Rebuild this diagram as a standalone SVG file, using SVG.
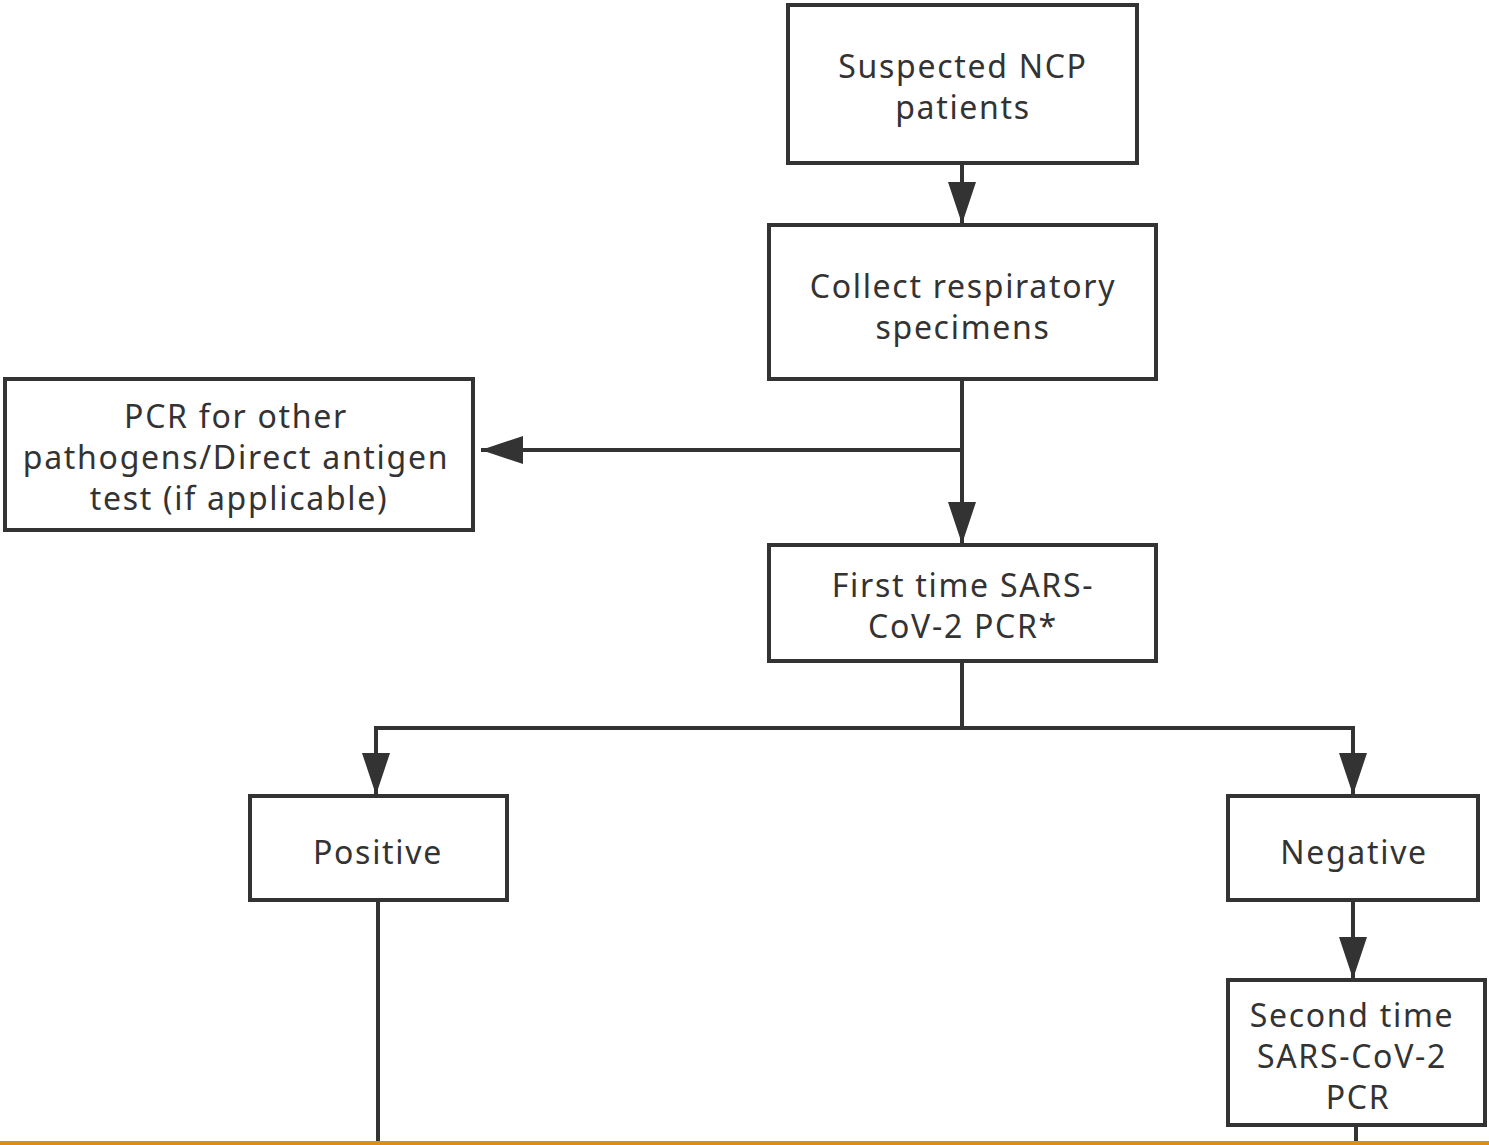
<svg xmlns="http://www.w3.org/2000/svg" width="1489" height="1145" viewBox="0 0 1489 1145">
<defs>
<marker id="ah" markerUnits="userSpaceOnUse" markerWidth="44" markerHeight="30" refX="42" refY="14" orient="auto">
<path d="M0,0 L42,14 L0,28 z" fill="#333"/>
</marker>
<style>
.box{fill:#fff;stroke:#333;stroke-width:4}
.t{font-family:"Noto Sans","Open Sans",sans-serif;font-size:32px;letter-spacing:1.7px;fill:#333;text-anchor:middle}
.c{fill:none;stroke:#333;stroke-width:4}
</style>
</defs>
<rect width="1489" height="1145" fill="#fff"/>
<g id="connectors">
<line class="c" x1="962" y1="163" x2="962" y2="224" marker-end="url(#ah)"/>
<line class="c" x1="962" y1="379" x2="962" y2="544" marker-end="url(#ah)"/>
<line class="c" x1="962" y1="450" x2="481" y2="450" marker-end="url(#ah)"/>
<polyline class="c" points="962,661 962,728 376,728 376,795" marker-end="url(#ah)"/>
<polyline class="c" points="962,728 1353,728 1353,795" marker-end="url(#ah)"/>
<line class="c" x1="378" y1="900" x2="378" y2="1145"/>
<line class="c" x1="1353" y1="900" x2="1353" y2="979" marker-end="url(#ah)"/>
<line class="c" x1="1356" y1="1125" x2="1356" y2="1145"/>
</g>
<g id="n1"><rect class="box" x="788" y="5" width="349" height="158"/>
<text class="t" x="963" y="78">Suspected NCP</text><text class="t" x="963" y="119">patients</text></g>
<g id="n2"><rect class="box" x="769" y="225" width="387" height="154"/>
<text class="t" x="963" y="298">Collect respiratory</text><text class="t" x="963" y="339">specimens</text></g>
<g id="n3"><rect class="box" x="5" y="379" width="468" height="151"/>
<text class="t" x="236" y="428">PCR for other</text><text class="t" x="236" y="469">pathogens/Direct antigen</text><text class="t" x="239" y="510">test (if applicable)</text></g>
<g id="n4"><rect class="box" x="769" y="545" width="387" height="116"/>
<text class="t" x="963" y="597">First time SARS-</text><text class="t" x="963" y="638">CoV-2 PCR*</text></g>
<g id="n5"><rect class="box" x="250" y="796" width="257" height="104"/>
<text class="t" x="378" y="864">Positive</text></g>
<g id="n6"><rect class="box" x="1228" y="796" width="250" height="104"/>
<text class="t" x="1354" y="864">Negative</text></g>
<g id="n7"><rect class="box" x="1228" y="980" width="257" height="145"/>
<text class="t" x="1352" y="1027">Second time</text><text class="t" x="1352" y="1068">SARS-CoV-2</text><text class="t" x="1358" y="1109">PCR</text></g>
<rect x="0" y="1141" width="1489" height="4" fill="#E08A1E"/>
</svg>
